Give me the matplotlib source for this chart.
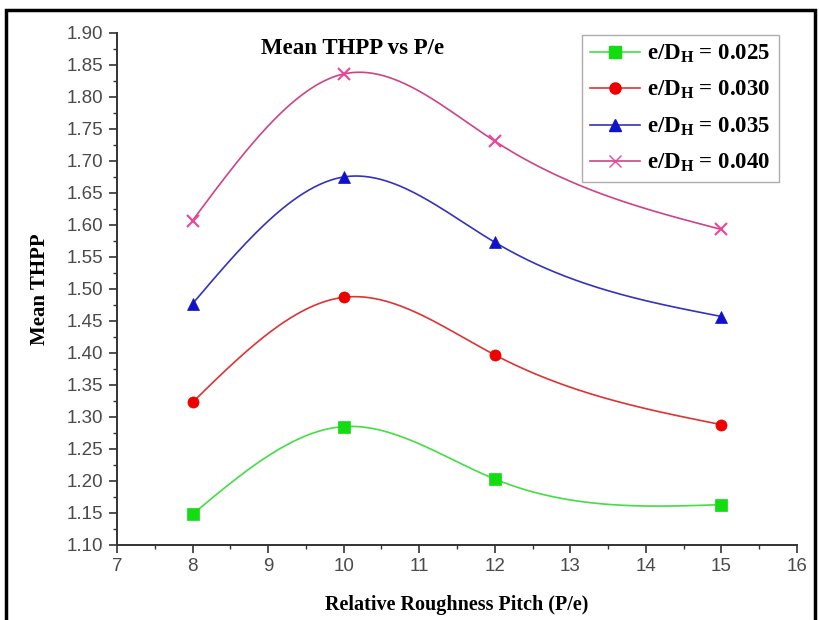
import numpy as np
import matplotlib
matplotlib.use("Agg")
import matplotlib.pyplot as plt
from matplotlib.patches import Rectangle
from matplotlib.ticker import MultipleLocator, FormatStrFormatter

plt.rcParams["mathtext.fontset"] = "custom"
plt.rcParams["mathtext.rm"] = "Liberation Serif"
plt.rcParams["mathtext.bf"] = "Liberation Serif:bold"
plt.rcParams["mathtext.it"] = "Liberation Serif:italic"

# ---- data ----
pitch = [8, 10, 12, 15]
thpp_025 = [1.148, 1.285, 1.203, 1.163]
thpp_030 = [1.323, 1.487, 1.397, 1.288]
thpp_035 = [1.477, 1.675, 1.573, 1.457]
thpp_040 = [1.607, 1.836, 1.731, 1.593]
labels = [r"e/D$_{\mathbf{H}}$ = 0.025", r"e/D$_{\mathbf{H}}$ = 0.030",
          r"e/D$_{\mathbf{H}}$ = 0.035", r"e/D$_{\mathbf{H}}$ = 0.040"]


def natural_spline(x, y, n=300):
    x = np.asarray(x, float)
    y = np.asarray(y, float)
    m = len(x)
    h = np.diff(x)
    A = np.zeros((m, m))
    b = np.zeros(m)
    A[0, 0] = 1
    A[-1, -1] = 1
    for i in range(1, m - 1):
        A[i, i - 1] = h[i - 1]
        A[i, i] = 2 * (h[i - 1] + h[i])
        A[i, i + 1] = h[i]
        b[i] = 6 * ((y[i + 1] - y[i]) / h[i] - (y[i] - y[i - 1]) / h[i - 1])
    M = np.linalg.solve(A, b)
    xs = np.linspace(x[0], x[-1], n)
    ys = np.empty_like(xs)
    for k, xv in enumerate(xs):
        i = min(np.searchsorted(x, xv, side="right") - 1, m - 2)
        t1 = x[i + 1] - xv
        t0 = xv - x[i]
        ys[k] = (M[i] * t1 ** 3 / (6 * h[i]) + M[i + 1] * t0 ** 3 / (6 * h[i])
                 + (y[i] / h[i] - M[i] * h[i] / 6) * t1
                 + (y[i + 1] / h[i] - M[i + 1] * h[i] / 6) * t0)
    return xs, ys


fig = plt.figure(figsize=(8.19, 6.2), dpi=100)
ax = fig.add_axes([0.1429, 0.121, 0.8302, 0.8258])

series = [thpp_025, thpp_030, thpp_035, thpp_040]
line_colors = ["#44dd44", "#dd3333", "#3333bb", "#cc4488"]
mk_colors = ["#11dd11", "#ee0000", "#1111cc", "#ee4499"]
markers = ["s", "o", "^", "x"]

for ys, lc, mc, mk, lab in zip(series, line_colors, mk_colors, markers, labels):
    xs_s, ys_s = natural_spline(pitch, ys)
    ax.plot(xs_s, ys_s, color=lc, lw=1.2)
    ax.plot(pitch, ys, linestyle="none", marker=mk, color=mc, markersize=8,
            markeredgewidth=1.5 if mk == "x" else 0.5)
    ax.plot([], [], color=lc, lw=1.2, marker=mk, markerfacecolor=mc,
            markeredgecolor=mc, markersize=8, label=lab)

ax.set_xlim(7, 16)
ax.set_ylim(1.10, 1.90)
ax.xaxis.set_major_locator(MultipleLocator(1))
ax.xaxis.set_minor_locator(MultipleLocator(0.5))
ax.yaxis.set_major_locator(MultipleLocator(0.05))
ax.yaxis.set_minor_locator(MultipleLocator(0.025))
ax.yaxis.set_major_formatter(FormatStrFormatter("%.2f"))

for s in ["top", "right"]:
    ax.spines[s].set_visible(False)
for s in ["left", "bottom"]:
    ax.spines[s].set_linewidth(1.4)
    ax.spines[s].set_color("#333333")

ax.tick_params(which="major", direction="out", length=6, width=1.2,
               colors="#333333", labelcolor="#4a4a4a", labelsize=13.5)
ax.tick_params(axis="y", which="major", pad=4)
ax.tick_params(which="minor", direction="out", length=3, width=1.0, colors="#333333")
for t in ax.get_xticklabels() + ax.get_yticklabels():
    t.set_fontfamily("Liberation Sans")

ax.set_xlabel("Relative Roughness Pitch (P/e)", fontfamily="Liberation Serif",
              fontweight="bold", fontsize=14.5, labelpad=14)
ax.set_ylabel("Mean THPP", fontfamily="Liberation Serif",
              fontweight="bold", fontsize=15, labelpad=12)
ax.text(0.347, 0.99, "Mean THPP vs P/e", transform=ax.transAxes, ha="center",
        va="top", fontfamily="Liberation Serif", fontweight="bold", fontsize=16.5)

leg = ax.legend(loc="upper right", bbox_to_anchor=(0.973, 0.997),
                prop={"family": "Liberation Serif", "weight": "bold", "size": 16.5},
                frameon=True, fancybox=False, edgecolor="#999999",
                handlelength=2.2, borderpad=0.35, labelspacing=0.62, handletextpad=0.3,
                borderaxespad=0.0)
leg.get_frame().set_linewidth(1.0)

# figure frame
fig.patches.append(Rectangle((0.007, -0.05), 0.988, 1.034, transform=fig.transFigure,
                             fill=False, edgecolor="black", linewidth=2.5))

fig.savefig("out.png", dpi=100, facecolor="white")
